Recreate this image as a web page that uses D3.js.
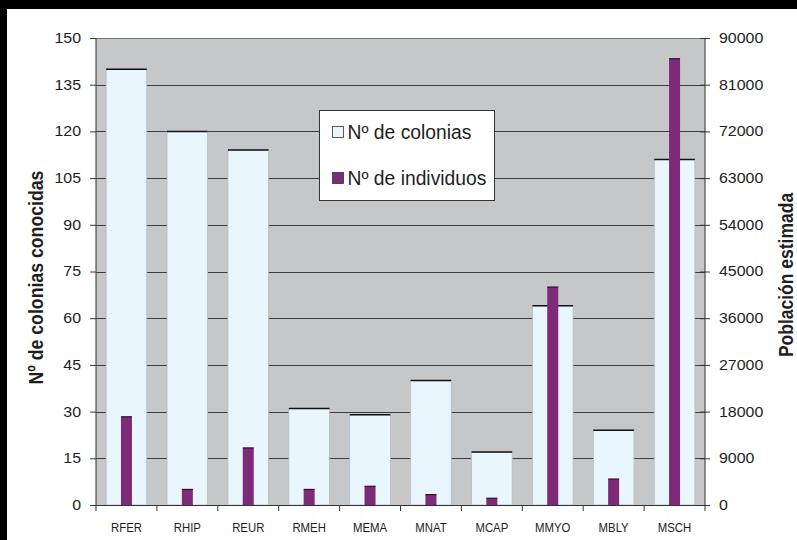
<!DOCTYPE html>
<html>
<head>
<meta charset="utf-8">
<script src="https://cdn.jsdelivr.net/npm/d3@7"></script>
<style>
  html, body { margin: 0; padding: 0; background: #fff; }
  svg { display: block; font-family: "Liberation Sans", Arial, sans-serif; }
</style>
</head>
<body>
<svg id="chart" width="797" height="540"></svg>
<script>
// Bat species codes
const categories = ["RFER", "RHIP", "REUR", "RMEH", "MEMA", "MNAT", "MCAP", "MMYO", "MBLY", "MSCH"];
// Known colonies (left axis)
const colonias = [140, 120, 114, 31, 29, 40, 17, 64, 24, 111];
// Estimated individuals (right axis)
const individuos = [17000, 3000, 11000, 3000, 3600, 2000, 1300, 42000, 5000, 86000];
// Axis tick values
const leftTicks = [0, 15, 30, 45, 60, 75, 90, 105, 120, 135, 150];
const rightTicks = [0, 9000, 18000, 27000, 36000, 45000, 54000, 63000, 72000, 81000, 90000];
const legendLabels = ["Nº de colonias", "Nº de individuos"];

const svg = d3.select("#chart");
const W = 797, H = 540;
const plot = { left: 96, right: 705, top: 38, bottom: 505 };
const colColor = "#eaf6fd", indColor = "#7d2a79";
const ink = "#1e1e1e";

// black frame strips along top and left edge
svg.append("rect").attr("x", 0).attr("y", 0).attr("width", W).attr("height", 9).attr("fill", "#000");
svg.append("rect").attr("x", 0).attr("y", 0).attr("width", 7).attr("height", H).attr("fill", "#000");

const x = d3.scaleBand().domain(categories).range([plot.left, plot.right]).paddingInner(0).paddingOuter(0);
const yL = d3.scaleLinear().domain([0, 150]).range([plot.bottom, plot.top]);
const yR = d3.scaleLinear().domain([0, 90000]).range([plot.bottom, plot.top]);

// plot background
svg.append("rect")
  .attr("x", plot.left).attr("y", plot.top)
  .attr("width", plot.right - plot.left).attr("height", plot.bottom - plot.top)
  .attr("fill", "#c6c7c9");

// horizontal gridlines
svg.append("g").selectAll("line").data(leftTicks.filter(d => d > 0)).join("line")
  .attr("x1", plot.left).attr("x2", plot.right)
  .attr("y1", d => Math.round(yL(d)) + 0.5).attr("y2", d => Math.round(yL(d)) + 0.5)
  .attr("stroke", d => d === 150 ? "#777" : "#3c3c3c").attr("stroke-width", 1);

// colonies bars
const colW = x.bandwidth() * 0.667;
const gCol = svg.append("g");
gCol.selectAll("rect").data(categories).join("rect")
  .attr("x", (d) => x(d) + (x.bandwidth() - colW) / 2)
  .attr("y", (d, i) => yL(colonias[i]))
  .attr("width", colW)
  .attr("height", (d, i) => plot.bottom - yL(colonias[i]))
  .attr("fill", colColor)
  .attr("stroke", "#b4bcc2").attr("stroke-width", 0.8);
gCol.selectAll("line").data(categories).join("line")
  .attr("x1", (d) => x(d) + (x.bandwidth() - colW) / 2)
  .attr("x2", (d) => x(d) + (x.bandwidth() + colW) / 2)
  .attr("y1", (d, i) => yL(colonias[i])).attr("y2", (d, i) => yL(colonias[i]))
  .attr("stroke", "#111").attr("stroke-width", 1.5);

// individuals bars
const indW = 11;
const gInd = svg.append("g");
gInd.selectAll("rect").data(categories).join("rect")
  .attr("x", (d) => x(d) + (x.bandwidth() - indW) / 2)
  .attr("y", (d, i) => yR(individuos[i]))
  .attr("width", indW)
  .attr("height", (d, i) => plot.bottom - yR(individuos[i]))
  .attr("fill", indColor);
gInd.selectAll("line").data(categories).join("line")
  .attr("x1", (d) => x(d) + (x.bandwidth() - indW) / 2)
  .attr("x2", (d) => x(d) + (x.bandwidth() + indW) / 2)
  .attr("y1", (d, i) => yR(individuos[i])).attr("y2", (d, i) => yR(individuos[i]))
  .attr("stroke", "#2a1028").attr("stroke-width", 1.2);

// left axis
const axL = svg.append("g").attr("transform", `translate(${plot.left},0)`)
  .call(d3.axisLeft(yL).tickValues(leftTicks).tickSize(6));
// right axis
const axR = svg.append("g").attr("transform", `translate(${plot.right},0)`)
  .call(d3.axisRight(yR).tickValues(rightTicks).tickFormat(d3.format("d")).tickSize(6));
[axL, axR].forEach(ax => {
  ax.select(".domain").attr("stroke", "#333").attr("d", `M0,${plot.top}V${plot.bottom}`);
  ax.selectAll(".tick line").attr("stroke", "#333");
  ax.selectAll(".tick text").attr("font-size", 14).attr("fill", ink)
    .attr("font-family", "Liberation Sans, Arial, sans-serif");
});
axL.selectAll(".tick line").attr("x1", -6).attr("x2", 0);
axL.selectAll(".tick text").attr("x", 0).attr("transform", "translate(-15,0) scale(1.14,1)");
axR.selectAll(".tick line").attr("x1", -5).attr("x2", 5);
axR.selectAll(".tick text").attr("x", 0).attr("transform", "translate(14,0) scale(1.14,1)");

// bottom axis with ticks at category boundaries
const axB = svg.append("g").attr("transform", `translate(0,${plot.bottom})`)
  .call(d3.axisBottom(x).tickSize(0).tickPadding(18));
axB.select(".domain").attr("stroke", "#333").attr("d", `M${plot.left},0.5H${plot.right}`);
axB.selectAll(".tick text").attr("font-size", 12.5).attr("fill", ink)
  .attr("font-family", "Liberation Sans, Arial, sans-serif").attr("transform", "scale(0.91,1)");
axB.selectAll(".tick").attr("transform", d => `translate(${x(d) + x.bandwidth() / 2},0)`);
axB.selectAll("line.sep").data(categories.concat(["__end"])).join("line").attr("class", "sep")
  .attr("x1", (d, i) => plot.left + i * x.bandwidth()).attr("x2", (d, i) => plot.left + i * x.bandwidth())
  .attr("y1", 0).attr("y2", 6).attr("stroke", "#333");

// axis titles
svg.append("text")
  .attr("transform", `translate(43,277.5) scale(1.15,1) rotate(-90)`)
  .attr("text-anchor", "middle").attr("font-size", 17.7).attr("font-weight", "bold").attr("fill", ink)
  .text("Nº de colonias conocidas");
svg.append("text")
  .attr("transform", `translate(793,275) scale(1.15,1) rotate(-90)`)
  .attr("text-anchor", "middle").attr("font-size", 17.5).attr("font-weight", "bold").attr("fill", ink)
  .text("Población estimada");

// legend
const lg = svg.append("g").attr("transform", "translate(319.5,110.5)");
lg.append("rect").attr("width", 175).attr("height", 90).attr("fill", "#fff").attr("stroke", "#333");
[colColor, indColor].forEach((c, i) => {
  const row = lg.append("g").attr("transform", `translate(0,${22 + i * 46})`);
  row.append("rect").attr("x", 13).attr("y", -6).attr("width", 11).attr("height", 11)
    .attr("fill", c).attr("stroke", "#333").attr("stroke-width", 0.8);
  row.append("text").attr("x", 28).attr("y", 6.5).attr("font-size", 19.3).attr("fill", ink)
    .text(legendLabels[i]);
});
</script>
</body>
</html>
